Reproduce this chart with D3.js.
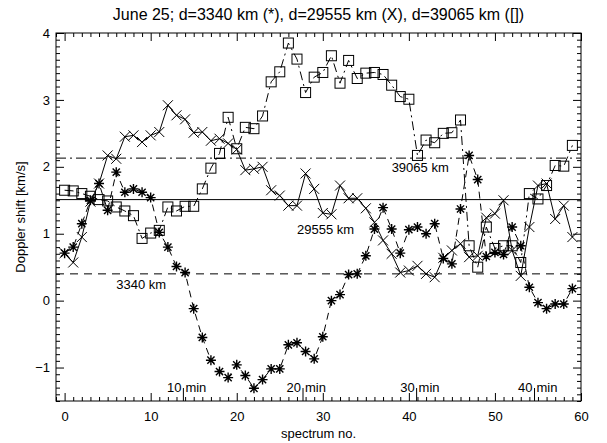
<!DOCTYPE html>
<html>
<head>
<meta charset="utf-8">
<script src="https://cdn.jsdelivr.net/npm/d3@7"></script>
<style>
  body { margin: 0; background: #fff; }
  svg { font-family: "Liberation Sans", Arial, sans-serif; }
</style>
</head>
<body>
<div id="chart"></div>
<script>
// spectrum number (x) and Doppler shift [km/s] for the three heights
var spectrumNo = [0,1,2,3,4,5,6,7,8,9,10,11,12,13,14,15,16,17,18,19,20,21,22,23,24,25,26,27,28,29,
                  30,31,32,33,34,35,36,37,38,39,40,41,42,43,44,45,46,47,48,49,50,51,52,53,54,55,56,57,58,59];

var shift3340 = [0.71,0.80,1.15,1.50,1.75,1.35,1.92,1.62,1.67,1.62,1.54,1.02,0.80,0.51,0.42,-0.12,-0.55,-0.89,-1.06,-1.15,
                 -0.96,-1.12,-1.31,-1.18,-1.02,-1.02,-0.66,-0.63,-0.76,-0.87,-0.54,0.00,0.09,0.39,0.40,0.67,1.07,1.39,1.07,0.71,
                 1.06,1.10,1.00,1.15,0.63,0.55,1.37,2.17,1.81,0.66,0.72,0.69,1.10,0.82,0.20,-0.03,-0.12,-0.05,-0.05,0.18];

var shift29555 = [0.71,0.57,0.95,1.48,1.75,2.17,2.12,2.45,2.47,2.37,2.47,2.52,2.92,2.77,2.71,2.51,2.52,2.39,2.42,2.35,
                  2.26,1.95,1.97,2.00,1.65,1.57,1.42,1.42,1.90,1.67,1.31,1.29,1.72,1.53,1.53,1.38,1.17,0.90,0.70,0.42,
                  0.45,0.52,0.40,0.35,0.64,0.75,0.85,0.65,0.67,1.24,1.30,1.50,0.75,0.37,1.10,1.72,1.75,1.22,1.42,0.95];

var shift39065 = [1.65,1.64,1.60,1.56,1.51,1.49,1.40,1.34,1.27,0.93,1.01,1.05,1.40,1.34,1.41,1.41,1.67,1.98,2.20,2.74,
                  2.27,2.59,2.57,2.76,3.27,3.42,3.85,3.61,3.11,3.34,3.41,3.66,3.25,3.59,3.32,3.40,3.41,3.38,3.22,3.05,
                  3.01,2.17,2.40,2.36,2.50,2.51,2.70,0.82,0.50,1.10,0.78,0.82,0.82,0.57,1.60,1.52,1.72,2.02,2.01,2.32];

// mean levels drawn as horizontal lines, with their labels
var meanLevels = [0.40, 1.51, 2.13];
var meanLabels = ["3340 km", "29555 km", "39065 km"];
var meanLabelX = [6, 27, 38];
var meanLabelY = [0.17, 0.99, 1.92];

// time marks along the bottom
var minutePos = [13.8, 27.7, 40.9, 54.6];
var minuteLabels = ["10", "20", "30", "40"];

var xTicks = [0, 10, 20, 30, 40, 50, 60];
var yTicks = [-1, 0, 1, 2, 3, 4];

var margin = {top: 33, right: 26, bottom: 42, left: 56},
    width = 607 - margin.left - margin.right,
    height = 443 - margin.top - margin.bottom;

var svg = d3.select("#chart")
  .append("svg")
    .attr("width", 607)
    .attr("height", 443);

var g = svg.append("g")
    .attr("transform", "translate(" + margin.left + "," + margin.top + ")");

var x = d3.scaleLinear().domain([-1, 60]).range([0, width]);
var y = d3.scaleLinear().domain([-1.5, 4]).range([height, 0]);

var xMinor = d3.range(-1, 61).filter(function (d) { return d % 10 !== 0; });
var yMinor = d3.range(-15, 41).map(function (d) { return d / 10; })
  .filter(function (d) { return Math.abs(d - Math.round(d)) > 1e-6; });

function styleAxis(sel) {
  sel.select(".domain").remove();
  sel.selectAll("line").attr("stroke", "#000").attr("stroke-width", 1);
  sel.selectAll("text").attr("fill", "#000").attr("font-size", 13);
}

// bottom
g.append("g").attr("transform", "translate(0," + height + ")")
  .call(d3.axisBottom(x).tickValues(xTicks).tickSize(-8).tickPadding(11).tickFormat(d3.format("d")))
  .call(styleAxis);
g.append("g").attr("transform", "translate(0," + height + ")")
  .call(d3.axisBottom(x).tickValues(xMinor).tickSize(-4).tickFormat(""))
  .call(styleAxis);
// top
g.append("g")
  .call(d3.axisTop(x).tickValues(xTicks).tickSize(-8).tickFormat(""))
  .call(styleAxis);
g.append("g")
  .call(d3.axisTop(x).tickValues(xMinor).tickSize(-4).tickFormat(""))
  .call(styleAxis);
// left
g.append("g")
  .call(d3.axisLeft(y).tickValues(yTicks).tickSize(-8).tickPadding(6).tickFormat(d3.format("d")))
  .call(styleAxis);
g.append("g")
  .call(d3.axisLeft(y).tickValues(yMinor).tickSize(-4).tickFormat(""))
  .call(styleAxis);
// right
g.append("g").attr("transform", "translate(" + width + ",0)")
  .call(d3.axisRight(y).tickValues(yTicks).tickSize(-8).tickFormat(""))
  .call(styleAxis);
g.append("g").attr("transform", "translate(" + width + ",0)")
  .call(d3.axisRight(y).tickValues(yMinor).tickSize(-4).tickFormat(""))
  .call(styleAxis);

g.append("rect")
  .attr("width", width).attr("height", height)
  .attr("fill", "none").attr("stroke", "#000").attr("stroke-width", 1);

// mean levels
var levelDash = ["8,6", null, "10,4,2,4"];
g.selectAll(".level")
  .data(meanLevels)
  .enter()
  .append("line")
    .attr("x1", 0).attr("x2", width)
    .attr("y1", function (d) { return y(d); })
    .attr("y2", function (d) { return y(d); })
    .attr("stroke", "#000")
    .attr("stroke-width", 1)
    .attr("stroke-dasharray", function (d, i) { return levelDash[i]; });

g.selectAll(".levelLabel")
  .data(meanLabels)
  .enter()
  .append("text")
    .attr("x", function (d, i) { return x(meanLabelX[i]); })
    .attr("y", function (d, i) { return y(meanLabelY[i]); })
    .attr("font-size", 13)
    .text(function (d) { return d; });

// series lines
function series(values) {
  return values.map(function (v, i) { return [spectrumNo[i], v]; });
}
var line = d3.line()
  .x(function (d) { return x(d[0]); })
  .y(function (d) { return y(d[1]); });

g.append("path").datum(series(shift3340))
  .attr("d", line).attr("fill", "none").attr("stroke", "#000")
  .attr("stroke-width", 1).attr("stroke-dasharray", "7,5");
g.append("path").datum(series(shift29555))
  .attr("d", line).attr("fill", "none").attr("stroke", "#000")
  .attr("stroke-width", 1);
g.append("path").datum(series(shift39065))
  .attr("d", line).attr("fill", "none").attr("stroke", "#000")
  .attr("stroke-width", 1).attr("stroke-dasharray", "9,4,2,4");

// markers
var s = 5, sd = 3.6;
g.selectAll(".star")
  .data(series(shift3340))
  .enter()
  .append("path")
    .attr("transform", function (d) { return "translate(" + x(d[0]) + "," + y(d[1]) + ")"; })
    .attr("d", "M" + (-s) + ",0H" + s + "M0," + (-s) + "V" + s +
               "M" + (-sd) + "," + (-sd) + "L" + sd + "," + sd +
               "M" + (-sd) + "," + sd + "L" + sd + "," + (-sd))
    .attr("stroke", "#000").attr("stroke-width", 1.4).attr("fill", "none");

g.selectAll(".cross")
  .data(series(shift29555))
  .enter()
  .append("path")
    .attr("transform", function (d) { return "translate(" + x(d[0]) + "," + y(d[1]) + ")"; })
    .attr("d", "M-5,-5L5,5M-5,5L5,-5")
    .attr("stroke", "#000").attr("stroke-width", 1).attr("fill", "none");

g.selectAll(".box")
  .data(series(shift39065))
  .enter()
  .append("rect")
    .attr("x", function (d) { return x(d[0]) - 5; })
    .attr("y", function (d) { return y(d[1]) - 5; })
    .attr("width", 10).attr("height", 10)
    .attr("stroke", "#000").attr("stroke-width", 1).attr("fill", "none");

// minute marks
var mins = g.selectAll(".minute")
  .data(minutePos)
  .enter()
  .append("g")
    .attr("transform", function (d) { return "translate(" + x(d) + "," + height + ")"; });
mins.append("line").attr("y1", 0).attr("y2", -13).attr("stroke", "#000");
mins.append("text").attr("x", -2).attr("y", -9).attr("text-anchor", "end")
  .attr("font-size", 13).text(function (d, i) { return minuteLabels[i]; });
mins.append("text").attr("x", 2).attr("y", -9)
  .attr("font-size", 13).text("min");

// titles
svg.append("text")
  .attr("x", margin.left + width / 2).attr("y", 20)
  .attr("text-anchor", "middle").attr("font-size", 16)
  .text("June 25; d=3340 km (*), d=29555 km (X), d=39065 km ([])");

svg.append("text")
  .attr("x", margin.left + width / 2).attr("y", 438)
  .attr("text-anchor", "middle").attr("font-size", 13)
  .text("spectrum no.");

svg.append("text")
  .attr("transform", "translate(25," + (margin.top + height / 2) + ") rotate(-90)")
  .attr("text-anchor", "middle").attr("font-size", 13)
  .text("Doppler shift [km/s]");
</script>
</body>
</html>
